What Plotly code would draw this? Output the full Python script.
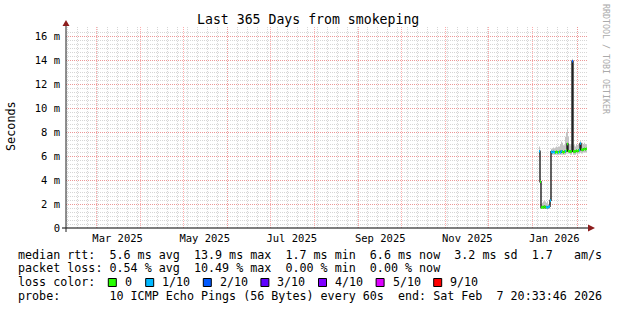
import plotly.graph_objects as go
import pandas as pd

W, H = 617, 310
ML, MR, MT, MB = 66, 30, 27, 82
PW = W - ML - MR
PH = H - MT - MB

T_START = "2025-02-07 20:33:46"
T_END = "2026-02-07 20:33:46"

# ---- data (milliseconds) ----
sample_start = "2026-01-05 05:30"
sample_step_min = 1009
median_ms = [6.40, 3.85, 1.70, 1.75, 1.70, 1.80, 1.70, 1.75, 1.70, 1.75, 1.80, 2.30,
             6.35, 6.30, 6.35, 6.30, 6.30, 6.35, 6.30, 6.30, 6.35, 6.30, 6.40, 6.35,
             6.30, 6.35, 6.40, 6.45, 7.00, 6.40, 6.40, 6.35, 6.40, 13.90, 6.40, 6.35,
             6.40, 6.45, 6.40, 6.45, 6.50, 7.05, 6.55, 6.50, 6.55, 6.60, 6.55, 6.60]
loss_tenths = [1, 0, 0, 0, 0, 0, 0, 1, 1, 1, 1, 1,
               1, 1, 1, 1, 0, 0, 0, 1, 0, 1, 1, 0,
               0, 0, 1, 0, 0, 0, 0, 0, 0, 2, 0, 0,
               0, 0, 0, 0, 1, 1, 0, 0, 0, 0, 0, 0]
ping_lo_ms = [6.10, 3.60, 1.60, 1.60, 1.60, 1.60, 1.60, 1.60, 1.60, 1.60, 1.60, 2.00,
              6.10, 6.10, 6.10, 6.10, 6.10, 6.10, 6.10, 6.10, 6.10, 6.10, 6.10, 6.10,
              6.10, 6.10, 6.10, 6.20, 6.30, 6.20, 6.20, 6.10, 6.10, 6.40, 6.10, 6.10,
              6.10, 6.20, 6.10, 6.20, 6.20, 6.30, 6.20, 6.20, 6.30, 6.30, 6.30, 6.30]
ping_hi_ms = [6.80, 4.10, 2.00, 2.10, 2.20, 2.30, 2.20, 2.10, 2.20, 2.00, 2.10, 2.50,
              6.60, 6.60, 6.70, 6.60, 6.70, 6.80, 6.70, 6.80, 6.80, 7.00, 7.20, 7.10,
              6.90, 6.90, 7.60, 8.00, 8.30, 7.60, 7.00, 6.90, 7.00, 14.10, 6.90, 6.90,
              6.80, 7.00, 6.90, 7.00, 7.00, 7.30, 7.00, 7.10, 7.00, 7.10, 7.00, 7.00]

loss_levels = [0, 1, 2, 3, 4, 5, 9]
loss_labels = ["0", "1/10", "2/10", "3/10", "4/10", "5/10", "9/10"]
loss_colors = ["#26ff00", "#00b8ff", "#0059ff", "#5e00ff", "#7e00ff", "#dd00ff", "#ff0000"]

y_tick_vals = [0, 2, 4, 6, 8, 10, 12, 14, 16]
y_tick_text = ["0", "2 m", "4 m", "6 m", "8 m", "10 m", "12 m", "14 m", "16 m"]
x_label_dates = ["2025-03-16", "2025-05-16", "2025-07-16", "2025-09-16", "2025-11-16", "2026-01-16"]
x_label_text = ["Mar 2025", "May 2025", "Jul 2025", "Sep 2025", "Nov 2025", "Jan 2026"]
month_starts = pd.date_range("2025-03-01", "2026-02-01", freq="MS")

stats_rows = [
    "median rtt:  5.6 ms avg  13.9 ms max  1.7 ms min  6.6 ms now  3.2 ms sd  1.7   am/s",
    "packet loss: 0.54 % avg  10.49 % max  0.00 % min  0.00 % now",
    "loss color:",
    "probe:       10 ICMP Echo Pings (56 Bytes) every 60s  end: Sat Feb  7 20:33:46 2026",
]

MONO = "DejaVu Sans Mono"
MAJOR_GRID = "rgba(255,90,90,0.5)"
MINOR_GRID = "#d6d6d6"

times = list(pd.date_range(sample_start, periods=len(median_ms), freq=f"{sample_step_min}min"))
step = pd.Timedelta(minutes=sample_step_min)
t_ext = times + [times[-1] + step]


def ext(v):
    return list(v) + [v[-1]]


def px_x(px):
    return (px - ML) / PW


def px_y(py):
    return (H - MB - py) / PH


fig = go.Figure()

# smoke
fig.add_trace(go.Scatter(x=t_ext, y=ext(ping_lo_ms), mode="lines", line=dict(width=0, shape="hv"),
                         hoverinfo="skip", showlegend=False))
fig.add_trace(go.Scatter(x=t_ext, y=ext(ping_hi_ms), mode="lines", line=dict(width=0, shape="hv"),
                         fill="tonexty", fillcolor="#c4c4c4", hoverinfo="skip", showlegend=False))
# median line
fig.add_trace(go.Scatter(x=t_ext, y=ext(median_ms), mode="lines",
                         line=dict(color="#202020", width=1.4, shape="hv"),
                         hoverinfo="skip", showlegend=False))
# loss-coloured segments
for lvl, col in zip(loss_levels, loss_colors):
    xs, ys = [], []
    for i, (t, v, l) in enumerate(zip(times, median_ms, loss_tenths)):
        if l == lvl:
            xs += [t, t_ext[i + 1], None]
            ys += [v, v, None]
    if xs:
        fig.add_trace(go.Scatter(x=xs, y=ys, mode="lines", line=dict(color=col, width=2.5),
                                 hoverinfo="skip", showlegend=False))

# dummy trace on label axis
fig.add_trace(go.Scatter(x=[T_START, T_END], y=[None, None], xaxis="x2", mode="lines",
                         showlegend=False, hoverinfo="skip"))

shapes = []
# axes lines
shapes.append(dict(type="line", xref="paper", yref="paper", x0=px_x(62), x1=px_x(588),
                   y0=0, y1=0, line=dict(color="#000000", width=1), layer="above"))
shapes.append(dict(type="line", xref="paper", yref="paper", x0=0, x1=0,
                   y0=px_y(232), y1=px_y(25), line=dict(color="#202020", width=1), layer="above"))
# arrows
shapes.append(dict(type="path", xref="paper", yref="paper", xsizemode="pixel", ysizemode="pixel",
                   xanchor=0, yanchor=1, path="M -3.5,1 L 3.5,1 L 0,7 Z",
                   fillcolor="#8c1c1c", line=dict(width=0), layer="above"))
shapes.append(dict(type="path", xref="paper", yref="paper", xsizemode="pixel", ysizemode="pixel",
                   xanchor=1, yanchor=0, path="M 1,-3.5 L 1,3.5 L 8,0 Z",
                   fillcolor="#8c1c1c", line=dict(width=0), layer="above"))

annotations = []
annotations.append(dict(text="Last 365 Days from smokeping", xref="paper", yref="paper",
                        x=px_x(308), y=px_y(19.5), showarrow=False, xanchor="center", yanchor="middle",
                        font=dict(family=MONO, size=13.2, color="#000000")))
annotations.append(dict(text="Seconds", xref="paper", yref="paper", x=px_x(11), y=px_y(126),
                        textangle=-90, showarrow=False, xanchor="center", yanchor="middle",
                        font=dict(family=MONO, size=11.8, color="#000000")))
annotations.append(dict(text="RRDTOOL / TOBI OETIKER", xref="paper", yref="paper", x=px_x(606),
                        y=px_y(59), textangle=90, showarrow=False, xanchor="center", yanchor="middle",
                        font=dict(family=MONO, size=8.3, color="#aaaaaa")))

row_y = [254.5, 268, 282, 296]
for txt, ry in zip(stats_rows, row_y):
    annotations.append(dict(text=txt.replace(" ", "\u00a0"), xref="paper", yref="paper",
                            x=px_x(16), y=px_y(ry), showarrow=False, xanchor="left", yanchor="middle",
                            font=dict(family=MONO, size=11.7, color="#000000")))

sq_left = [108.3, 145.7, 203.3, 260.9, 318.5, 376.1, 433.7]
for sx, lab, col in zip(sq_left, loss_labels, loss_colors):
    shapes.append(dict(type="rect", xref="paper", yref="paper", x0=px_x(sx), x1=px_x(sx + 8),
                       y0=px_y(286.5), y1=px_y(278.5), fillcolor=col,
                       line=dict(color="#000000", width=1), layer="above"))
    annotations.append(dict(text=lab, xref="paper", yref="paper", x=px_x(sx + 14.5), y=px_y(282),
                            showarrow=False, xanchor="left", yanchor="middle",
                            font=dict(family=MONO, size=11.7, color="#000000")))

fig.update_layout(
    width=W, height=H,
    margin=dict(l=ML, r=MR, t=MT, b=MB, pad=0),
    paper_bgcolor="#ffffff", plot_bgcolor="#ffffff",
    showlegend=False,
    shapes=shapes, annotations=annotations,
    xaxis=dict(type="date", range=[T_START, T_END], tickmode="array", tickvals=list(month_starts),
               showticklabels=False, ticks="", showgrid=True, gridcolor=MAJOR_GRID,
               griddash="1px,1px", gridwidth=1, zeroline=False, showline=False,
               minor=dict(tickmode="linear", tick0="2025-02-09", dtick=7 * 24 * 3600 * 1000,
                          showgrid=True, gridcolor=MINOR_GRID, griddash="1px,1px", gridwidth=1,
                          ticks="")),
    xaxis2=dict(type="date", overlaying="x", side="bottom", range=[T_START, T_END], tickmode="array",
                tickvals=x_label_dates, ticktext=x_label_text, showgrid=False, ticks="",
                tickfont=dict(family=MONO, size=10.5, color="#000000"), zeroline=False, showline=False,
                ticklabelstandoff=2),
    yaxis=dict(range=[0, 16.75], tickmode="array", tickvals=y_tick_vals, ticktext=y_tick_text,
               showgrid=True, gridcolor=MAJOR_GRID, griddash="1px,1px", gridwidth=1,
               zeroline=False, showline=False, ticks="", ticklabelstandoff=5,
               tickfont=dict(family=MONO, size=10.5, color="#000000"),
               minor=dict(tickmode="linear", tick0=0, dtick=1 / 3, showgrid=True, gridcolor=MINOR_GRID,
                          griddash="1px,1px", gridwidth=1, ticks="")),
)

fig.write_html("out.html")
